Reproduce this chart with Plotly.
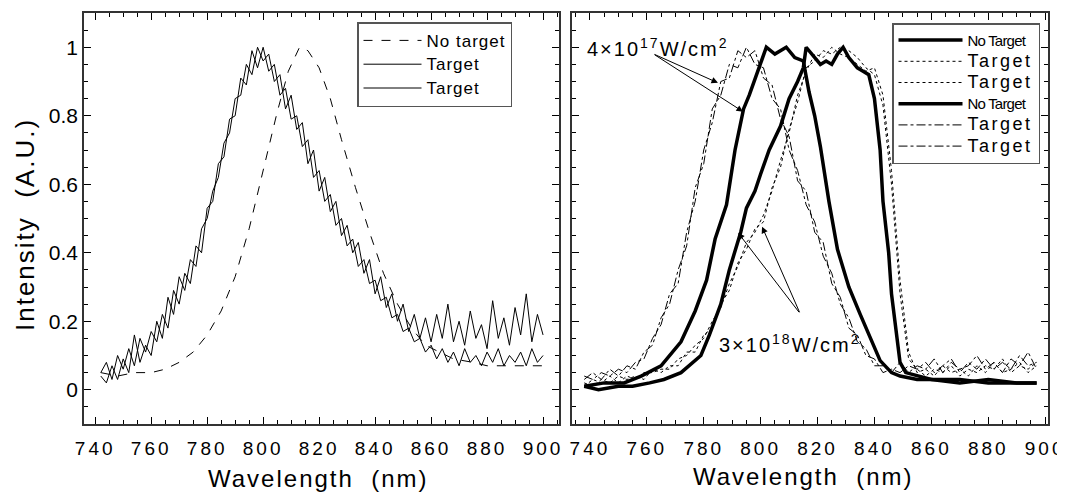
import plotly.graph_objects as go

# ---------------- data ----------------
# Left panel
wl_left = list(range(742, 902, 2))
target1_left = [0.04, 0.02, 0.07, 0.03, 0.09, 0.05, 0.16, 0.08, 0.13, 0.10,
                0.20, 0.15, 0.27, 0.22, 0.33, 0.29, 0.38, 0.36, 0.47, 0.50,
                0.58, 0.62, 0.72, 0.75, 0.85, 0.86, 0.95, 0.92, 1.00, 0.96,
                0.98, 0.90, 0.92, 0.82, 0.86, 0.76, 0.78, 0.66, 0.70, 0.58,
                0.62, 0.52, 0.55, 0.45, 0.48, 0.40, 0.43, 0.34, 0.38, 0.28,
                0.33, 0.24, 0.28, 0.20, 0.25, 0.17, 0.22, 0.15, 0.21, 0.14,
                0.22, 0.15, 0.25, 0.14, 0.20, 0.13, 0.23, 0.15, 0.19, 0.12,
                0.26, 0.15, 0.21, 0.13, 0.24, 0.16, 0.28, 0.14, 0.22, 0.16]
target2_left = [0.05, 0.08, 0.03, 0.10, 0.06, 0.12, 0.07, 0.15, 0.11, 0.17,
                0.14, 0.22, 0.18, 0.29, 0.25, 0.34, 0.31, 0.42, 0.40, 0.53,
                0.55, 0.66, 0.68, 0.79, 0.80, 0.91, 0.89, 0.99, 0.94, 1.00,
                0.93, 0.95, 0.86, 0.88, 0.79, 0.80, 0.71, 0.73, 0.62, 0.64,
                0.55, 0.57, 0.48, 0.50, 0.42, 0.44, 0.36, 0.38, 0.31, 0.32,
                0.26, 0.27, 0.21, 0.22, 0.17, 0.18, 0.14, 0.15, 0.11, 0.13,
                0.09, 0.12, 0.08, 0.11, 0.07, 0.12, 0.08, 0.10, 0.07, 0.11,
                0.08, 0.12, 0.07, 0.10, 0.08, 0.11, 0.07, 0.12, 0.08, 0.10]
wl_nt_left = [742, 748, 754, 760, 765, 770, 775, 780, 785, 790, 795, 800, 805, 809, 813, 816, 820, 824,
              828, 833, 838, 843, 848, 853, 858, 863, 868, 875, 880, 885, 890, 895, 900]
notarget_left = [0.05, 0.04, 0.05, 0.05, 0.06, 0.08, 0.11, 0.16, 0.23, 0.33, 0.47, 0.64, 0.81, 0.93, 1.00,
                 0.99, 0.94, 0.85, 0.73, 0.59, 0.46, 0.34, 0.25, 0.18, 0.13, 0.11, 0.09, 0.08, 0.07, 0.07,
                 0.07, 0.07, 0.07]

# Right panel
wl_a = [738, 745, 752, 758, 765, 772, 777, 781, 784, 788,
        791, 794, 796, 799, 802, 805, 809, 812, 815, 817,
        819, 821, 824, 827, 831, 835, 839, 842, 846, 849,
        855, 860, 870, 880, 890, 897]
notarget_a = [0.01, 0.02, 0.02, 0.04, 0.07, 0.14, 0.23, 0.32, 0.44, 0.54,
              0.70, 0.82, 0.86, 0.93, 1.00, 0.98, 1.00, 0.97, 0.96, 0.87,
              0.80, 0.71, 0.55, 0.41, 0.30, 0.22, 0.14, 0.085, 0.05, 0.04,
              0.03, 0.03, 0.02, 0.03, 0.02, 0.02]
wl_b = [738, 743, 750, 755, 761, 766, 772, 776, 779, 782,
        786, 789, 793, 795, 798, 800, 803, 807, 810, 813,
        815, 816, 819, 821, 823, 825, 827, 829, 831, 834,
        836, 838, 840, 842, 843, 845, 846, 848, 849, 851,
        855, 860, 870, 880, 890, 897]
notarget_b = [0.01, 0.00, 0.01, 0.01, 0.02, 0.03, 0.05, 0.08, 0.10, 0.16,
              0.25, 0.35, 0.46, 0.53, 0.58, 0.63, 0.70, 0.77, 0.85, 0.90,
              0.94, 1.00, 0.97, 0.95, 0.96, 0.95, 0.98, 1.00, 0.97, 0.94,
              0.93, 0.92, 0.85, 0.70, 0.55, 0.40, 0.28, 0.14, 0.08, 0.05,
              0.04, 0.03, 0.03, 0.02, 0.02, 0.02]
wl_r = list(range(738, 898, 3))
dotted1 = [0.01, 0.03, 0.02, 0.04, 0.02, 0.04, 0.03, 0.05, 0.05, 0.06,
           0.06, 0.09, 0.10, 0.13, 0.15, 0.20, 0.24, 0.31, 0.36, 0.43,
           0.46, 0.51, 0.58, 0.67, 0.75, 0.86, 0.93, 0.98, 0.97, 1.00,
           0.98, 0.97, 0.95, 0.93, 0.94, 0.86, 0.64, 0.32, 0.11, 0.05,
           0.06, 0.04, 0.07, 0.05, 0.06, 0.04, 0.07, 0.05, 0.08, 0.05,
           0.06, 0.08, 0.05, 0.07]
dotted2 = [0.02, 0.01, 0.03, 0.02, 0.04, 0.03, 0.04, 0.03, 0.06, 0.05,
           0.07, 0.07, 0.11, 0.11, 0.16, 0.18, 0.25, 0.29, 0.37, 0.41,
           0.47, 0.49, 0.59, 0.65, 0.76, 0.84, 0.94, 0.96, 0.99, 0.98,
           1.00, 0.99, 0.97, 0.94, 0.92, 0.83, 0.60, 0.28, 0.09, 0.06,
           0.04, 0.06, 0.05, 0.07, 0.04, 0.06, 0.05, 0.07, 0.06, 0.09,
           0.05, 0.07, 0.06, 0.08]
dashdot1 = [0.03, 0.05, 0.03, 0.06, 0.04, 0.07, 0.06, 0.11, 0.13, 0.21,
            0.25, 0.35, 0.42, 0.59, 0.66, 0.82, 0.86, 0.95, 0.94, 1.00,
            0.95, 0.94, 0.85, 0.82, 0.70, 0.64, 0.54, 0.49, 0.39, 0.34,
            0.25, 0.21, 0.14, 0.12, 0.07, 0.07, 0.05, 0.08, 0.05, 0.07,
            0.06, 0.09, 0.05, 0.08, 0.06, 0.07, 0.10, 0.06, 0.08, 0.05,
            0.09, 0.07, 0.11, 0.06]
dashdot2 = [0.04, 0.03, 0.05, 0.04, 0.06, 0.05, 0.08, 0.09, 0.15, 0.19,
            0.28, 0.31, 0.46, 0.55, 0.70, 0.78, 0.90, 0.91, 0.99, 0.97,
            0.99, 0.91, 0.89, 0.79, 0.74, 0.61, 0.58, 0.46, 0.43, 0.31,
            0.27, 0.18, 0.16, 0.10, 0.09, 0.05, 0.06, 0.05, 0.07, 0.06,
            0.08, 0.05, 0.07, 0.09, 0.05, 0.08, 0.06, 0.09, 0.06, 0.08,
            0.06, 0.10, 0.07, 0.08]

x_ticks = [740, 760, 780, 800, 820, 840, 860, 880, 900]
y_ticks = [0, 0.2, 0.4, 0.6, 0.8, 1]
y_tick_text = ["0", "0.2", "0.4", "0.6", "0.8", "1"]

# ---------------- figure ----------------
FONT = "Liberation Sans, Arial, sans-serif"
fig = go.Figure()


def spaced(s, px=3, size=None):
    style = "letter-spacing:%spx" % px
    if size:
        style += ";font-size:%dpx" % size
    return "<span style='%s'>%s</span>" % (style, s)


fig.add_trace(go.Scatter(x=wl_nt_left, y=notarget_left, mode="lines", name=spaced("No target", 1, 17),
                         line=dict(color="black", width=1, dash="dash"), xaxis="x", yaxis="y", legend="legend"))
fig.add_trace(go.Scatter(x=wl_left, y=target1_left, mode="lines", name=spaced("Target", 1, 17),
                         line=dict(color="black", width=1), xaxis="x", yaxis="y", legend="legend"))
fig.add_trace(go.Scatter(x=wl_left, y=target2_left, mode="lines", name=spaced("Target", 1, 17),
                         line=dict(color="black", width=1), xaxis="x", yaxis="y", legend="legend"))

nt_name = spaced("No Target", -0.8, 15)
tg_name = spaced("Target", 2.5, 18)
fig.add_trace(go.Scatter(x=wl_b, y=notarget_b, mode="lines", name=nt_name,
                         line=dict(color="black", width=3.5), xaxis="x2", yaxis="y2", legend="legend2"))
fig.add_trace(go.Scatter(x=wl_r, y=dotted1, mode="lines", name=tg_name,
                         line=dict(color="black", width=1, dash="dot"), xaxis="x2", yaxis="y2", legend="legend2"))
fig.add_trace(go.Scatter(x=wl_r, y=dotted2, mode="lines", name=tg_name,
                         line=dict(color="black", width=1, dash="dot"), xaxis="x2", yaxis="y2", legend="legend2"))
fig.add_trace(go.Scatter(x=wl_a, y=notarget_a, mode="lines", name=nt_name,
                         line=dict(color="black", width=3.5), xaxis="x2", yaxis="y2", legend="legend2"))
fig.add_trace(go.Scatter(x=wl_r, y=dashdot1, mode="lines", name=tg_name,
                         line=dict(color="black", width=1, dash="dashdot"), xaxis="x2", yaxis="y2", legend="legend2"))
fig.add_trace(go.Scatter(x=wl_r, y=dashdot2, mode="lines", name=tg_name,
                         line=dict(color="black", width=1, dash="dashdot"), xaxis="x2", yaxis="y2", legend="legend2"))

# the page body has an 8px margin, so figure coords = screen coords - 8
OFF = 8
W, H = 1065, 494
mt = 13 - OFF
mb = H - (424 - OFF)
ph = H - mt - mb


def fx(p):
    return (p - OFF) / W


def fy(p):
    return 1 - (p - OFF - mt) / ph


xaxis_common = dict(tickvals=x_ticks, ticktext=[spaced(str(v)) for v in x_ticks],
                    ticks="inside", ticklen=7, tickwidth=1, tickcolor="black", showline=True,
                    linecolor="#333", linewidth=1.5, mirror="ticks", showgrid=False, zeroline=False,
                    tickfont=dict(family=FONT, size=19, color="black"),
                    minor=dict(ticks="inside", dtick=5, tick0=740, ticklen=4, tickcolor="black"),
                    ticklabelstandoff=6)
yaxis_common = dict(range=[-0.1, 1.1], tickvals=y_ticks, ticktext=y_tick_text,
                    ticks="inside", ticklen=7, tickwidth=1, tickcolor="black", showline=True,
                    linecolor="#333", linewidth=1.5, mirror="ticks", showgrid=False, zeroline=False,
                    tickfont=dict(family=FONT, size=21, color="black"),
                    minor=dict(ticks="inside", dtick=0.05, tick0=0, ticklen=4, tickcolor="black"))

fig.update_layout(
    width=W, height=H, plot_bgcolor="white", paper_bgcolor="white",
    margin=dict(l=0, r=0, t=mt, b=mb, autoexpand=False),
    font=dict(family=FONT, color="black"),
    xaxis=dict(domain=[fx(84), fx(559)], anchor="y", range=[736, 905.7], **xaxis_common),
    yaxis=dict(domain=[0, 1], anchor="x", showticklabels=True, **yaxis_common),
    xaxis2=dict(domain=[fx(572), fx(1048)], anchor="y2", range=[733.7, 901], **xaxis_common),
    yaxis2=dict(domain=[0, 1], anchor="x2", showticklabels=False, **yaxis_common),
    legend=dict(x=fx(357), y=fy(22), xanchor="left", yanchor="top", bgcolor="white",
                bordercolor="#555", borderwidth=1.5, font=dict(family=FONT, size=16),
                itemwidth=58, tracegroupgap=0),
    legend2=dict(x=fx(892), y=fy(23), xanchor="left", yanchor="top", bgcolor="white",
                 bordercolor="#555", borderwidth=1.5, font=dict(family=FONT, size=14),
                 itemwidth=64, tracegroupgap=0),
    showlegend=True,
)

# axis titles
for cx, cy in [(318, 478), (803, 476)]:
    fig.add_annotation(text=spaced("Wavelength  (nm)", 2), xref="paper", yref="paper",
                       x=fx(cx), y=fy(cy), showarrow=False, font=dict(family=FONT, size=24),
                       xanchor="center", yanchor="middle")
fig.add_annotation(text=spaced("Intensity  (A.U.)", 2), xref="paper", yref="paper",
                   x=fx(25), y=fy(225), showarrow=False, font=dict(family=FONT, size=26), textangle=-90,
                   xanchor="center", yanchor="middle")

# intensity labels and arrows (right panel)
fig.add_annotation(text=spaced("4×10<sup>17</sup>W/cm<sup>2</sup>", 2), xref="x2", yref="y2", x=763.9, y=1.0,
                   showarrow=False, font=dict(family=FONT, size=20), xanchor="center", yanchor="middle")
for tip_x, tip_y in [(785.0, 0.896), (793.8, 0.812)]:
    fig.add_annotation(text="", xref="x2", yref="y2", axref="x2", ayref="y2", x=tip_x, y=tip_y,
                       ax=762.2, ay=0.981, showarrow=True, arrowhead=2, arrowsize=1.3, arrowwidth=1,
                       arrowcolor="black")
fig.add_annotation(text=spaced("3×10<sup>18</sup>W/cm<sup>2</sup>", 2), xref="x2", yref="y2", x=810.4, y=0.134,
                   showarrow=False, font=dict(family=FONT, size=20), xanchor="center", yanchor="middle")
for tip_x, tip_y in [(792.1, 0.458), (800.5, 0.476)]:
    fig.add_annotation(text="", xref="x2", yref="y2", axref="x2", ayref="y2", x=tip_x, y=tip_y,
                       ax=813.9, ay=0.222, showarrow=True, arrowhead=2, arrowsize=1.3, arrowwidth=1,
                       arrowcolor="black")

fig.write_html("out.html")
